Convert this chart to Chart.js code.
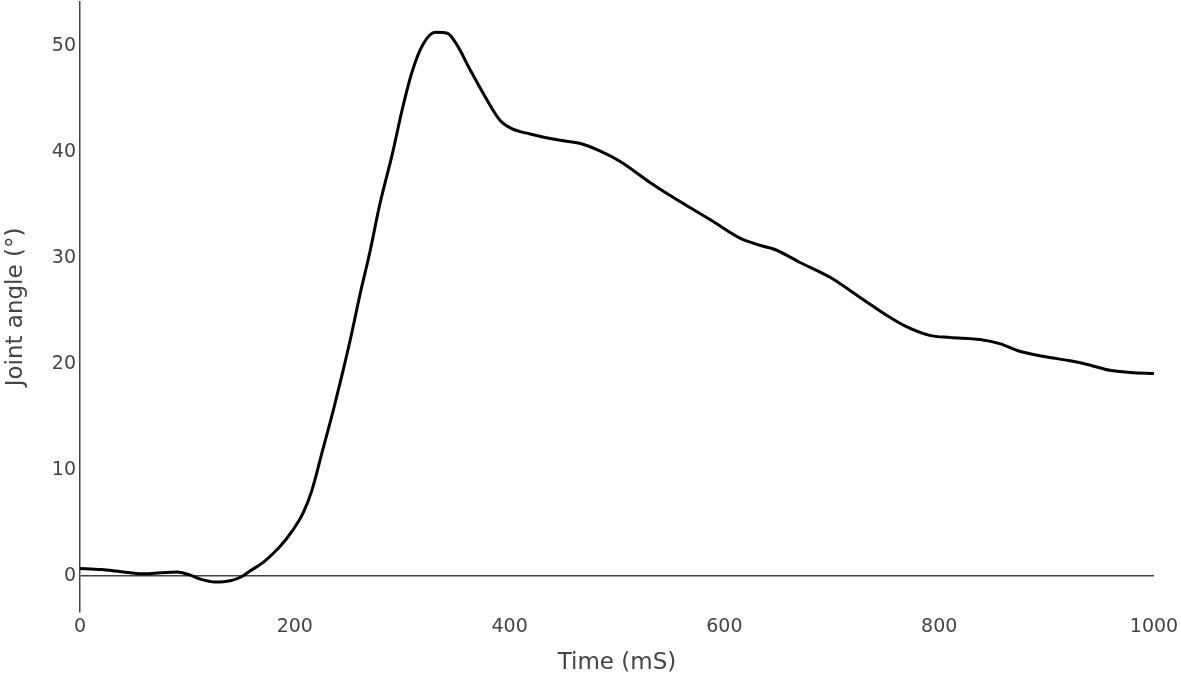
<!DOCTYPE html>
<html>
<head>
<meta charset="utf-8">
<script src="https://cdn.jsdelivr.net/npm/chart.js@4"></script>
<style>
  html, body { margin: 0; padding: 0; background: #fff; }
  #wrap { width: 1181px; height: 679px; }
</style>
</head>
<body>
<div id="wrap"><canvas id="chart" width="1181" height="679"></canvas></div>
<script>
// time in ms, joint angle in degrees
const times = [0, 10, 20, 33, 45, 60, 75, 90, 102, 112, 126, 140, 150, 158, 172, 186, 198, 208, 216, 226,
  236, 245, 253, 261, 270, 279, 291, 300, 309, 319, 331, 342, 351, 363, 379, 391, 402, 419, 447, 466, 484,
  503, 531, 559, 587, 614, 633, 647, 670, 698, 726, 754, 768, 791, 810, 838, 857, 875, 898, 922, 940,
  959, 978, 1000];
const angles = [0.7, 0.65, 0.6, 0.47, 0.33, 0.2, 0.3, 0.38, 0.1, -0.3, -0.57, -0.45, -0.1, 0.45, 1.4, 2.75, 4.3, 6.0, 8.1, 11.9,
  15.7, 19.4, 22.9, 26.7, 30.6, 35.0, 39.9, 44.0, 47.5, 50.1, 51.3, 51.2, 50.1, 47.8, 44.9, 43.0, 42.2, 41.7, 41.1, 40.8, 40.1,
  39.1, 37.1, 35.3, 33.6, 31.9, 31.2, 30.8, 29.6, 28.2, 26.3, 24.4, 23.6, 22.7, 22.5, 22.3, 21.9, 21.2, 20.7, 20.3, 19.9,
  19.4, 19.2, 19.1];
const xTicks = [0, 200, 400, 600, 800, 1000];
const yTicks = [0, 10, 20, 30, 40, 50];

const points = times.map((t, i) => ({ x: t, y: angles[i] }));
const grey = '#444';
const fam = 'DejaVu Sans';

const ctx = document.getElementById('chart').getContext('2d');
new Chart(ctx, {
  type: 'line',
  data: {
    datasets: [{
      data: points,
      borderColor: '#000',
      borderWidth: 3,
      pointRadius: 0,
      fill: false,
      cubicInterpolationMode: 'monotone',
    }],
  },
  options: {
    responsive: false,
    animation: false,
    layout: { padding: { top: 2, right: 27, left: 0, bottom: 0 } },
    plugins: { legend: { display: false }, tooltip: { enabled: false } },
    scales: {
      x: {
        type: 'linear',
        min: 0,
        max: 1000,
        afterBuildTicks: (axis) => { axis.ticks = xTicks.map(v => ({ value: v })); },
        afterFit: (axis) => {
          axis.height = 67;
          axis.paddingLeft = 0;
          axis.paddingRight = 0;
        },
        grid: { display: false, drawTicks: false },
        border: { display: false },
        ticks: {
          color: grey, padding: 4, maxRotation: 0,
          font: { family: fam, size: 19 },
          callback: (v) => String(v),
        },
        title: {
          display: true,
          text: 'Time (mS)',
          color: grey,
          padding: { bottom: 2, top: 0 },
          font: { family: fam, size: 23, lineHeight: 1.2 },
        },
      },
      y: {
        type: 'linear',
        min: -3.4,
        max: 54.15,
        afterBuildTicks: (axis) => { axis.ticks = yTicks.map(v => ({ value: v })); },
        afterFit: (axis) => {
          axis.width = 80;
          axis.paddingTop = 0;
          axis.paddingBottom = 0;
        },
        grid: {
          drawTicks: false,
          color: (c) => (c.tick && c.tick.value === 0 ? grey : 'rgba(0,0,0,0)'),
          lineWidth: 1.5,
        },
        border: { display: true, color: grey, width: 1.5 },
        ticks: {
          color: grey, padding: 4,
          font: { family: fam, size: 19 },
          callback: (v) => String(v),
        },
        title: {
          display: true,
          text: 'Joint angle (°)',
          color: grey,
          padding: { top: 2, bottom: 0 },
          font: { family: fam, size: 23, lineHeight: 1.2 },
        },
      },
    },
  },
});
</script>
</body>
</html>
